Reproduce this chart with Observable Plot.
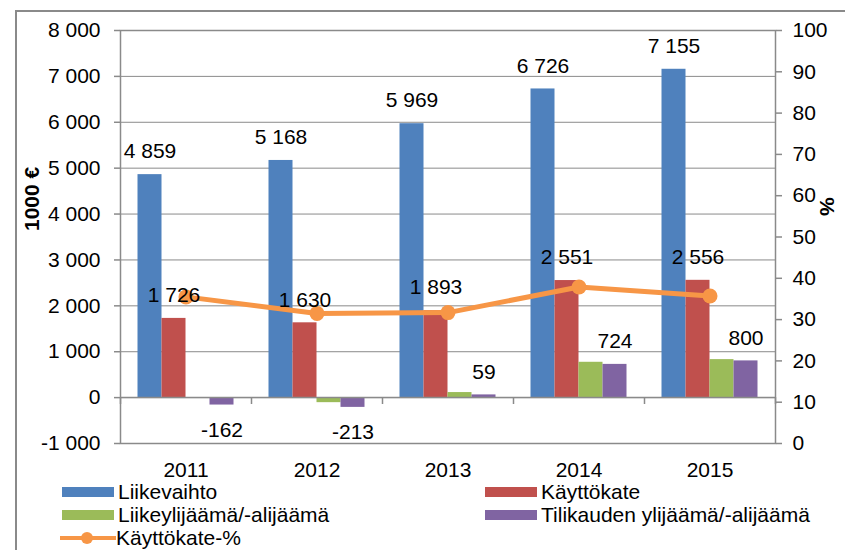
<!DOCTYPE html>
<html><head><meta charset="utf-8">
<script src="https://cdn.jsdelivr.net/npm/d3@7"></script>
<script src="https://cdn.jsdelivr.net/npm/@observablehq/plot@0.6"></script>
<style>
body{margin:0;background:#fff;font-family:"Liberation Sans",Arial,sans-serif;}
#wrap{position:relative;width:845px;height:550px;overflow:hidden;background:#fff;}
#border{position:absolute;left:15px;top:10px;width:900px;height:600px;border-left:2px solid #8a8a8a;border-top:2px solid #8a8a8a;}
#chart{position:absolute;left:0;top:0;}
.leg{position:absolute;font-size:21px;line-height:21px;color:#000;display:flex;align-items:center;white-space:nowrap;}
.sw{width:52px;height:10px;margin-right:4px;}
.lsw{position:relative;width:52px;height:10px;margin-right:4px;}
</style></head><body>
<div id="wrap"><div id="border"></div><div id="chart"></div><div id="legend"></div></div>
<script>
const years = ["2011","2012","2013","2014","2015"];
const liikevaihto = [4859, 5168, 5969, 6726, 7155];
const kayttokate = [1726, 1630, 1893, 2551, 2556];
const liikeylijaama = [0, -110, 110, 770, 828];
const tilikauden = [-162, -213, 59, 724, 800];
const kayttokatePct = [35.5, 31.5, 31.7, 37.9, 35.7];
const seriesNames = ["Liikevaihto", "Käyttökate", "Liikeylijäämä/-alijäämä", "Tilikauden ylijäämä/-alijäämä"];
const seriesColors = ["#4F81BD", "#C0504D", "#9BBB59", "#8064A2"];
const seriesLabelled = [true, true, false, true];
const lineName = "Käyttökate-%";
const lineColor = "#F79646";
const leftTicks = [-1000, 0, 1000, 2000, 3000, 4000, 5000, 6000, 7000, 8000];
const rightTicks = [0, 10, 20, 30, 40, 50, 60, 70, 80, 90, 100];
const yAxisTitle = "1000 €";
const y2AxisTitle = "%";

const seriesValues = [liikevaihto, kayttokate, liikeylijaama, tilikauden];
const gray = "#8a8a8a";
const fs = 21;
const yMin = -1000, yMax = 8000;
const pct2y = p => yMin + p * (yMax - yMin) / 100;
const fmt = v => d3.format(",")(v).replace(/,/g, " ").replace("\u2212", "-");

const barW = 24, band = 131;
const marks = [];
marks.push(Plot.ruleY(leftTicks, {stroke: gray, strokeWidth: 1}));
marks.push(Plot.frame({stroke: gray, strokeWidth: 1.5}));
seriesValues.forEach((vals, i) => {
  const data = years.map((y, j) => ({year: y, value: vals[j]}));
  marks.push(Plot.barY(data, {
    x: "year", y1: 0, y2: "value", fill: seriesColors[i],
    insetLeft: (band - barW) / 2, insetRight: (band - barW) / 2,
    dx: (i - 1.5) * barW
  }));
});
marks.push(Plot.ruleY([0], {stroke: gray, strokeWidth: 1.5}));
marks.push(Plot.ruleX(years, {x: d => d, y1: 0, y2: yMin, dx: -band / 2, insetBottom: 39, stroke: gray, strokeWidth: 1.5}));
marks.push(Plot.ruleX([years[years.length - 1]], {x: d => d, y1: 0, y2: yMin, dx: band / 2, insetBottom: 39, stroke: gray, strokeWidth: 1.5}));
const lineData = years.map((y, j) => ({year: y, pct: kayttokatePct[j]}));
marks.push(Plot.line(lineData, {x: "year", y: d => pct2y(d.pct), stroke: lineColor, strokeWidth: 5}));
marks.push(Plot.dot(lineData, {x: "year", y: d => pct2y(d.pct), r: 7.5, fill: lineColor}));
seriesValues.forEach((vals, i) => {
  if (!seriesLabelled[i]) return;
  const data = years.map((y, j) => ({year: y, value: vals[j]}));
  marks.push(Plot.text(data.filter(d => d.value >= 0), {
    x: "year", y: "value", text: d => fmt(d.value), dx: (i - 1.5) * barW, dy: -23, fontSize: fs, fill: "#000"
  }));
  marks.push(Plot.text(data.filter(d => d.value < 0), {
    x: "year", y: "value", text: d => fmt(d.value), dx: (i - 1.5) * barW, dy: 25, fontSize: fs, fill: "#000"
  }));
});
marks.push(Plot.axisY(leftTicks, {anchor: "left", tickSize: 6, tickPadding: 14, tickFormat: fmt, stroke: gray, strokeWidth: 1.5, fontSize: fs, label: null}));
marks.push(Plot.axisY(rightTicks.map(pct2y), {anchor: "right", tickSize: 6, tickPadding: 11, tickFormat: d => String(Math.round((d - yMin) * 100 / (yMax - yMin))), stroke: gray, strokeWidth: 1.5, fontSize: fs, label: null}));
marks.push(Plot.axisX({anchor: "bottom", tickSize: 0, tickPadding: 19, fontSize: fs, label: null}));
marks.push(Plot.text([yAxisTitle], {text: d => d, frameAnchor: "left", rotate: -90, dx: -88, dy: -6, fontWeight: "bold", fontSize: fs, fill: "#000"}));
marks.push(Plot.text([y2AxisTitle], {text: d => d, frameAnchor: "right", rotate: 90, dx: 51, dy: -21, fontWeight: "bold", fontSize: fs, fill: "#000"}));

const chart = Plot.plot({
  width: 845, height: 483,
  marginLeft: 120, marginRight: 70, marginTop: 30, marginBottom: 40,
  x: {domain: years, padding: 0, axis: null},
  y: {domain: [yMin, yMax], axis: null},
  style: {fontFamily: '"Liberation Sans", Arial, sans-serif', fontSize: fs + "px", color: "#000", background: "transparent", overflow: "visible"},
  marks
});
document.getElementById("chart").appendChild(chart);

// legend
const legend = document.getElementById("legend");
const legPos = [
  {left: 62, top: 481}, {left: 485, top: 481},
  {left: 62, top: 504}, {left: 485, top: 504}
];
seriesNames.forEach((name, i) => {
  const el = document.createElement("div");
  el.className = "leg";
  el.style.left = legPos[i].left + "px";
  el.style.top = legPos[i].top + "px";
  el.innerHTML = `<span class="sw" style="background:${seriesColors[i]}"></span><span>${name}</span>`;
  legend.appendChild(el);
});
const le = document.createElement("div");
le.className = "leg";
le.style.left = "60px"; le.style.top = "527px";
le.innerHTML = `<span class="lsw"><span style="position:absolute;left:0;top:3px;width:56px;height:4px;background:${lineColor}"></span><span style="position:absolute;left:21px;top:-1px;width:12px;height:12px;border-radius:50%;background:${lineColor}"></span></span><span>${lineName}</span>`;
legend.appendChild(le);
</script>
</body></html>
